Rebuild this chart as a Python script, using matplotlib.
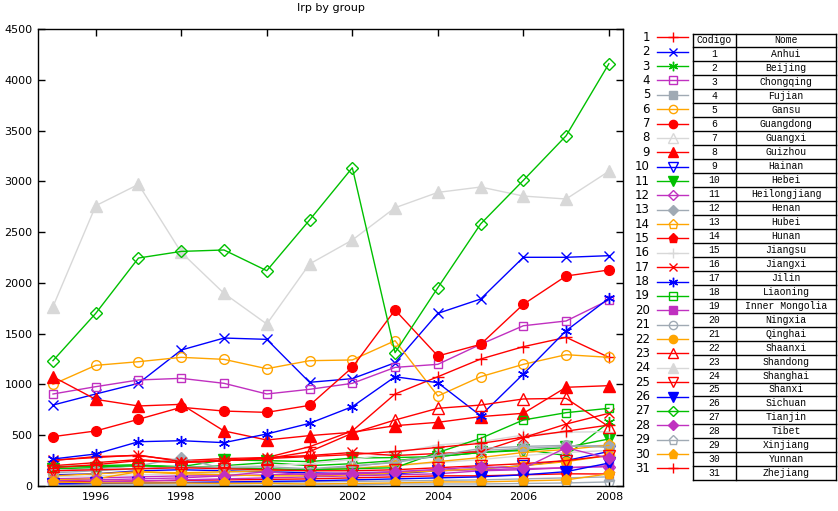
import matplotlib
matplotlib.use('Agg')
import matplotlib.pyplot as plt

# Irp by group, 31 provinces, 1995-2008
years = list(range(1995, 2009))

anhui        = [250, 290, 300, 250, 270, 280, 387, 542, 906, 1076, 1250, 1372, 1464, 1267]
beijing      = [797, 906, 1011, 1339, 1457, 1444, 1021, 1057, 1214, 1700, 1841, 2252, 2252, 2268]
chongqing    = [190, 200, 210, 180, 200, 230, 200, 220, 250, 290, 330, 360, 300, 627]
fujian       = [906, 978, 1044, 1060, 1011, 906, 952, 1011, 1168, 1198, 1395, 1578, 1625, 1831]
gansu        = [20, 20, 25, 30, 30, 35, 40, 45, 50, 55, 60, 70, 80, 90]
guangdong    = [1001, 1188, 1224, 1267, 1247, 1155, 1234, 1241, 1431, 886, 1076, 1198, 1293, 1267]
guangxi      = [486, 542, 657, 775, 738, 725, 794, 1168, 1733, 1280, 1395, 1789, 2068, 2127]
guizhou      = [90, 100, 110, 120, 130, 140, 150, 180, 200, 230, 260, 300, 330, 350]
hainan       = [1076, 853, 788, 804, 542, 453, 496, 529, 594, 627, 683, 716, 972, 988]
hebei        = [110, 120, 150, 160, 150, 140, 130, 120, 120, 150, 170, 200, 250, 340]
heilongjiang = [170, 180, 200, 190, 256, 250, 240, 275, 280, 290, 330, 350, 380, 463]
henan        = [70, 80, 90, 100, 100, 110, 120, 130, 140, 150, 160, 170, 180, 190]
hubei        = [150, 170, 200, 276, 170, 160, 160, 190, 240, 300, 350, 370, 390, 400]
hunan        = [100, 120, 140, 130, 140, 150, 160, 170, 200, 240, 280, 330, 360, 400]
jiangsu      = [40, 45, 50, 55, 60, 65, 70, 80, 90, 100, 100, 110, 120, 118]
jiangxi      = [150, 160, 170, 180, 190, 200, 220, 260, 325, 404, 436, 502, 530, 535]
jilin        = [256, 280, 305, 240, 250, 280, 300, 330, 300, 320, 338, 476, 610, 716]
liaoning     = [266, 315, 436, 446, 427, 512, 617, 781, 1076, 1017, 692, 1103, 1529, 1848]
inner_mong   = [190, 190, 200, 190, 180, 170, 160, 170, 180, 330, 469, 650, 722, 765]
ningxia      = [30, 40, 50, 60, 70, 80, 90, 100, 110, 120, 150, 160, 180, 200]
qinghai      = [130, 150, 170, 190, 180, 190, 170, 200, 230, 300, 370, 390, 400, 380]
shaanxi      = [60, 70, 141, 120, 110, 100, 100, 110, 130, 150, 170, 200, 240, 300]
shandong     = [200, 230, 260, 230, 250, 270, 338, 520, 650, 765, 797, 857, 863, 584]
shanghai     = [1766, 2760, 2970, 2300, 1897, 1595, 2186, 2422, 2740, 2891, 2944, 2855, 2826, 3099]
shanxi       = [150, 160, 170, 180, 170, 160, 150, 150, 160, 180, 200, 220, 250, 300]
sichuan      = [20, 25, 30, 35, 40, 45, 50, 60, 70, 80, 90, 110, 141, 226]
tianjin      = [1234, 1700, 2245, 2310, 2324, 2120, 2619, 3134, 1313, 1953, 2580, 3010, 3449, 4158]
tibet        = [50, 60, 70, 80, 100, 141, 108, 118, 141, 164, 190, 174, 377, 272]
xinjiang     = [0, 5, 10, 10, 10, 5, 10, 10, 20, 20, 20, 25, 30, 40]
yunnan       = [40, 30, 30, 30, 25, 25, 20, 25, 30, 40, 40, 50, 60, 120]
zhejiang     = [180, 210, 250, 230, 250, 270, 290, 310, 340, 380, 420, 480, 540, 600]

names = ['Anhui', 'Beijing', 'Chongqing', 'Fujian', 'Gansu', 'Guangdong', 'Guangxi',
         'Guizhou', 'Hainan', 'Hebei', 'Heilongjiang', 'Henan', 'Hubei', 'Hunan',
         'Jiangsu', 'Jiangxi', 'Jilin', 'Liaoning', 'Inner Mongolia', 'Ningxia',
         'Qinghai', 'Shaanxi', 'Shandong', 'Shanghai', 'Shanxi', 'Sichuan',
         'Tianjin', 'Tibet', 'Xinjiang', 'Yunnan', 'Zhejiang']

series = [anhui, beijing, chongqing, fujian, gansu, guangdong, guangxi, guizhou,
          hainan, hebei, heilongjiang, henan, hubei, hunan, jiangsu, jiangxi, jilin,
          liaoning, inner_mong, ningxia, qinghai, shaanxi, shandong, shanghai,
          shanxi, sichuan, tianjin, tibet, xinjiang, yunnan, zhejiang]

# gnuplot-like line colours (period 8) and point types (period 15)
palette = ['#ff0000', '#0000ff', '#00c000', '#c030c0', '#a0aab4', '#ffa500',
           '#ff0000', '#d8d8d8']
ptypes = [('+', True, 8), ('x', True, 7), ((6, 2, 0), True, 8),
          ('s', False, 6), ('s', True, 6), ('o', False, 7), ('o', True, 7),
          ('^', False, 8), ('^', True, 8), ('v', False, 8), ('v', True, 8),
          ('D', False, 6), ('D', True, 6), ('p', False, 8), ('p', True, 8)]

W, H = 838, 511

def px_rect(x0, y0, x1, y1):
    return [x0 / W, 1 - y1 / H, (x1 - x0) / W, (y1 - y0) / H]

def style(i, scale=1.0):
    c = palette[i % 8]
    m, filled, ms = ptypes[i % 15]
    return dict(color=c, marker=m, markersize=ms * scale, markeredgecolor=c,
                markerfacecolor=c if filled else 'none', markeredgewidth=1.0,
                linewidth=1.0)

fig = plt.figure(figsize=(W / 100, H / 100), dpi=100)
fig.patch.set_facecolor('white')

ax = fig.add_axes(px_rect(38, 29, 623, 486))
for i, vals in enumerate(series):
    ax.plot(years, vals, **style(i))

ax.set_xlim(1994.65, 2008.33)
ax.set_ylim(0, 4500)
ax.set_xticks([1996, 1998, 2000, 2002, 2004, 2006, 2008])
ax.set_yticks(range(0, 4501, 500))
ax.tick_params(direction='in', length=5, width=1, top=True, right=True,
               labelsize=8, pad=4, colors='black')
for sp in ax.spines.values():
    sp.set_linewidth(1)
    sp.set_color('black')
ax.set_title('Irp by group', fontsize=8, pad=13)

# key: numbers with line samples
lax = fig.add_axes(px_rect(625, 30, 692, 476))
lax.set_xlim(625, 692)
lax.set_ylim(476, 30)
lax.axis('off')
for i in range(len(series)):
    y = 37.3 + i * 14.37
    st = style(i, 0.85)
    lax.plot([657, 688], [y, y], color=st['color'], linewidth=1)
    st.pop('linewidth')
    lax.plot([672.5], [y], linestyle='none', **st)
    lax.text(650, y, str(i + 1), ha='right', va='center', fontsize=8.5)

# code table
tax = fig.add_axes(px_rect(692, 32, 838, 482))
tax.set_xlim(692, 838)
tax.set_ylim(482, 32)
tax.axis('off')
top, rowh = 33.5, 13.96
bottom = top + rowh * 32
left, mid, right = 693, 736, 836
tfont = dict(family='Liberation Mono', fontsize=7, va='center', ha='center')
for r in range(33):
    yy = top + r * rowh
    tax.plot([left, right], [yy, yy], color='black', linewidth=1)
for xx in (left, mid, right):
    tax.plot([xx, xx], [top, bottom], color='black', linewidth=1)
tax.text((left + mid) / 2, top + rowh / 2, 'Codigo', **tfont)
tax.text((mid + right) / 2, top + rowh / 2, 'Nome', **tfont)
for i, nm in enumerate(names):
    yc = top + (i + 1.5) * rowh
    tax.text((left + mid) / 2, yc, str(i + 1), **tfont)
    tax.text((mid + right) / 2, yc, nm, **tfont)

fig.savefig('out.png', dpi=100)
